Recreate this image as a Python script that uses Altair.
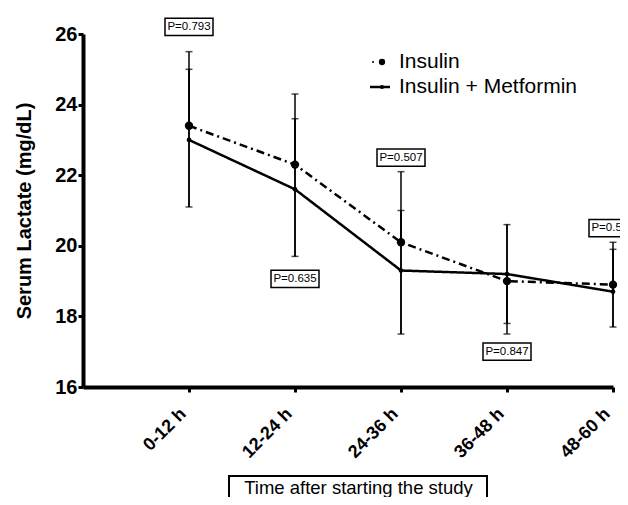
import json
import altair as alt
import pandas as pd

categories = ["0-12 h", "12-24 h", "24-36 h", "36-48 h", "48-60 h"]
series = ["Insulin", "Insulin + Metformin"]
insulin = [23.4, 22.3, 20.1, 19.0, 18.9]
metformin = [23.0, 21.6, 19.3, 19.2, 18.7]
# error bar end points
insulin_err_end = [25.5, 24.3, 22.1, 17.5, 20.1]
metformin_err_lo = [21.1, 19.7, 17.5, 17.8, 17.7]
metformin_err_hi = [25.0, 23.6, 21.0, 20.6, 19.9]
p_labels = ["P=0.793", "P=0.635", "P=0.507", "P=0.847", "P=0.579"]
p_y = [26.2, 19.06, 22.5, 17.0, 20.5]

FONT = "Liberation Sans"

rows = []
for i in range(len(categories)):
    rows.append({"idx": i, "series": series[0], "value": insulin[i]})
    rows.append({"idx": i, "series": series[1], "value": metformin[i]})
df = pd.DataFrame(rows)

err_rows = []
for i in range(len(categories)):
    err_rows.append({"idx": i, "lo": insulin[i], "hi": insulin_err_end[i], "cap": insulin_err_end[i]})
    err_rows.append({"idx": i, "lo": metformin_err_lo[i], "hi": metformin_err_hi[i], "cap": metformin_err_lo[i]})
    err_rows.append({"idx": i, "lo": metformin_err_lo[i], "hi": metformin_err_hi[i], "cap": metformin_err_hi[i]})
err = pd.DataFrame(err_rows)

pdf = pd.DataFrame({"idx": list(range(len(categories))), "y": p_y, "label": p_labels})
legend_df = pd.DataFrame({"series": series, "row": [0, 1]})

label_expr = json.dumps(categories) + "[datum.value]"

x_scale = alt.Scale(domain=[-1, 4], nice=False, zero=False)
y_scale = alt.Scale(domain=[16, 26], nice=False, zero=False)

x_axis = alt.Axis(
    values=[0, 1, 2, 3, 4], labelExpr=label_expr, labelAngle=-45,
    labelAlign="right", labelBaseline="middle", labelFont=FONT,
    labelFontSize=18, labelFontWeight="bold", labelColor="black",
    labelPadding=19, labelOffset=-6, tickSize=5, tickWidth=3, tickColor="black",
    domainWidth=4, domainColor="black", grid=False,
    title="Time after starting the study", titleFont=FONT, titleFontSize=18.5,
    titleFontWeight="normal", titleColor="black", titleX=275, titleY=106,
    titleAlign="center", titleBaseline="alphabetic",
)
y_axis = alt.Axis(
    values=[16, 18, 20, 22, 24, 26], format="d", labelFont=FONT,
    labelFontSize=20, labelFontWeight="bold", labelColor="black",
    labelPadding=1, tickSize=5, tickWidth=3, tickColor="black",
    domainWidth=4, domainColor="black", grid=False,
    title="Serum Lactate (mg/dL)", titleFont=FONT, titleFontSize=20,
    titleFontWeight="bold", titleColor="black", titlePadding=20,
)

x_enc = alt.X("idx:Q", scale=x_scale, axis=x_axis)

bars = alt.Chart(err).mark_rule(color="black", strokeWidth=1.5).encode(
    x=alt.X("idx:Q", scale=x_scale),
    y=alt.Y("lo:Q", scale=y_scale),
    y2="hi:Q",
)
caps = alt.Chart(err).mark_tick(color="black", thickness=1.5, size=7, orient="horizontal").encode(
    x=alt.X("idx:Q", scale=x_scale),
    y=alt.Y("cap:Q", scale=y_scale),
)

lines = alt.Chart(df).mark_line(color="black", strokeWidth=2.5).encode(
    x=x_enc,
    y=alt.Y("value:Q", scale=y_scale, axis=y_axis),
    strokeDash=alt.StrokeDash(
        "series:N",
        scale=alt.Scale(domain=series, range=[[8, 4, 2, 4], [1, 0]]),
        legend=None,
    ),
)

pts = alt.Chart(df).mark_point(filled=True, color="black", opacity=1).encode(
    x=alt.X("idx:Q", scale=x_scale),
    y=alt.Y("value:Q", scale=y_scale),
    size=alt.Size("series:N", scale=alt.Scale(domain=series, range=[70, 22]), legend=None),
)

box_shape = "M-1,-0.36L1,-0.36L1,0.36L-1,0.36Z"
boxes = alt.Chart(pdf).mark_point(
    shape=box_shape, size=2304, filled=True, fill="white", stroke="black",
    strokeWidth=1.5, opacity=1,
).encode(
    x=alt.X("idx:Q", scale=x_scale),
    y=alt.Y("y:Q", scale=y_scale),
)
ptext = alt.Chart(pdf).mark_text(font=FONT, fontSize=11.5, color="black", baseline="middle", align="center").encode(
    x=alt.X("idx:Q", scale=x_scale),
    y=alt.Y("y:Q", scale=y_scale),
    text="label:N",
)

title_box = alt.Chart(pdf).mark_rect(fillOpacity=0, stroke="black", strokeWidth=1.5).encode(
    x=alt.value(146), x2=alt.value(404), y=alt.value(442), y2=alt.value(490),
)

# manual legend (top right, inside the plot)
leg0 = legend_df[legend_df.row == 0]
leg1 = legend_df[legend_df.row == 1]
leg_text0 = alt.Chart(leg0).mark_text(font=FONT, fontSize=21, align="left", baseline="middle", color="black").encode(
    x=alt.value(316), y=alt.value(28), text="series:N")
leg_text1 = alt.Chart(leg1).mark_text(font=FONT, fontSize=21, align="left", baseline="middle", color="black").encode(
    x=alt.value(316), y=alt.value(53), text="series:N")
leg_dot0 = alt.Chart(leg0).mark_point(filled=True, color="black", opacity=1, size=4).encode(
    x=alt.value(290), y=alt.value(28))
leg_circ0 = alt.Chart(leg0).mark_point(filled=True, color="black", opacity=1, size=40).encode(
    x=alt.value(299), y=alt.value(28))
leg_line1 = alt.Chart(leg1).mark_rule(color="black", strokeWidth=2.5).encode(
    x=alt.value(287), x2=alt.value(307), y=alt.value(53))
leg_pt1 = alt.Chart(leg1).mark_point(filled=True, color="black", opacity=1, size=18).encode(
    x=alt.value(299), y=alt.value(53))

chart = alt.layer(
    title_box, bars, caps, lines, pts, boxes, ptext,
    leg_text0, leg_text1, leg_dot0, leg_circ0, leg_line1, leg_pt1,
).properties(
    width=530, height=353,
    autosize=alt.AutoSizeParams(type="none"),
    padding={"left": 75, "top": 26, "right": 7, "bottom": 110},
    background="white",
).configure_view(stroke=None)

chart.save("out.html", embed_options={"renderer": "svg", "actions": False})
